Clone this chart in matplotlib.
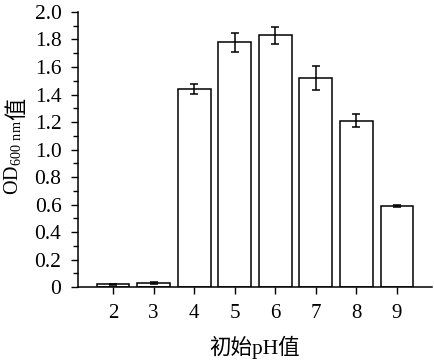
import numpy as np
import matplotlib
matplotlib.use("Agg")
import matplotlib.pyplot as plt
from matplotlib.ticker import MultipleLocator, FuncFormatter

plt.rcParams['font.family'] = ['Liberation Serif', 'Noto Sans CJK SC']
plt.rcParams['mathtext.fontset'] = 'custom'
plt.rcParams['mathtext.rm'] = 'Liberation Serif'

# =========================
# Data
# =========================
ph_values = ["2", "3", "4", "5", "6", "7", "8", "9"]
od_means = [0.02, 0.03, 1.44, 1.78, 1.83, 1.52, 1.21, 0.59]
od_errors = [0.006, 0.008, 0.037, 0.07, 0.06, 0.087, 0.047, 0.01]

# =========================
# Plot
# =========================
fig = plt.figure(figsize=(4.34, 3.63), dpi=100)
ax = fig.add_axes([0.18, 0.209, 0.815, 0.758])

x = np.arange(len(ph_values))
ax.bar(x, od_means, width=0.81, color="white", edgecolor="black", linewidth=1.1,
       yerr=od_errors, capsize=2.8,
       error_kw=dict(elinewidth=1.1, capthick=1.1, ecolor="black"))

ax.set_xlim(-0.86, len(ph_values) - 1 + 0.86)
ax.set_ylim(0, 2.0)
ax.set_xticks(x)
ax.set_xticklabels(ph_values)
ax.yaxis.set_major_locator(MultipleLocator(0.2))
ax.yaxis.set_minor_locator(MultipleLocator(0.1))
ax.yaxis.set_major_formatter(FuncFormatter(lambda v, p: "0" if abs(v) < 1e-9 else f"{v:.1f}"))

for s in ["top", "right"]:
    ax.spines[s].set_visible(False)
for s in ["left", "bottom"]:
    ax.spines[s].set_linewidth(1.1)

ax.tick_params(axis="both", which="major", direction="out", length=5, width=1.0,
               labelsize=15)
ax.tick_params(axis="y", which="major", pad=7, labelsize=15.5)
ax.tick_params(axis="y", which="minor", direction="out", length=3.5, width=1.0)
ax.tick_params(axis="x", pad=7)

ax.set_xlabel("初始pH值", fontsize=15.5, labelpad=9)
ax.set_ylabel(r"OD$_{\mathrm{600\ nm}}$", fontsize=14.5)
ax.yaxis.set_label_coords(-0.152, 0.47)

# add the Chinese character after the mathtext part of the y label
fig.canvas.draw()
bb = ax.yaxis.label.get_window_extent()
fx = ((bb.x0 + bb.x1) / 2 + 3) / fig.bbox.width
fy = bb.y1 / fig.bbox.height
fig.text(fx, fy, "值", rotation=90, ha="center", va="bottom", fontsize=16,
         family=["Noto Sans CJK SC"])

plt.savefig("out.png", dpi=100)
